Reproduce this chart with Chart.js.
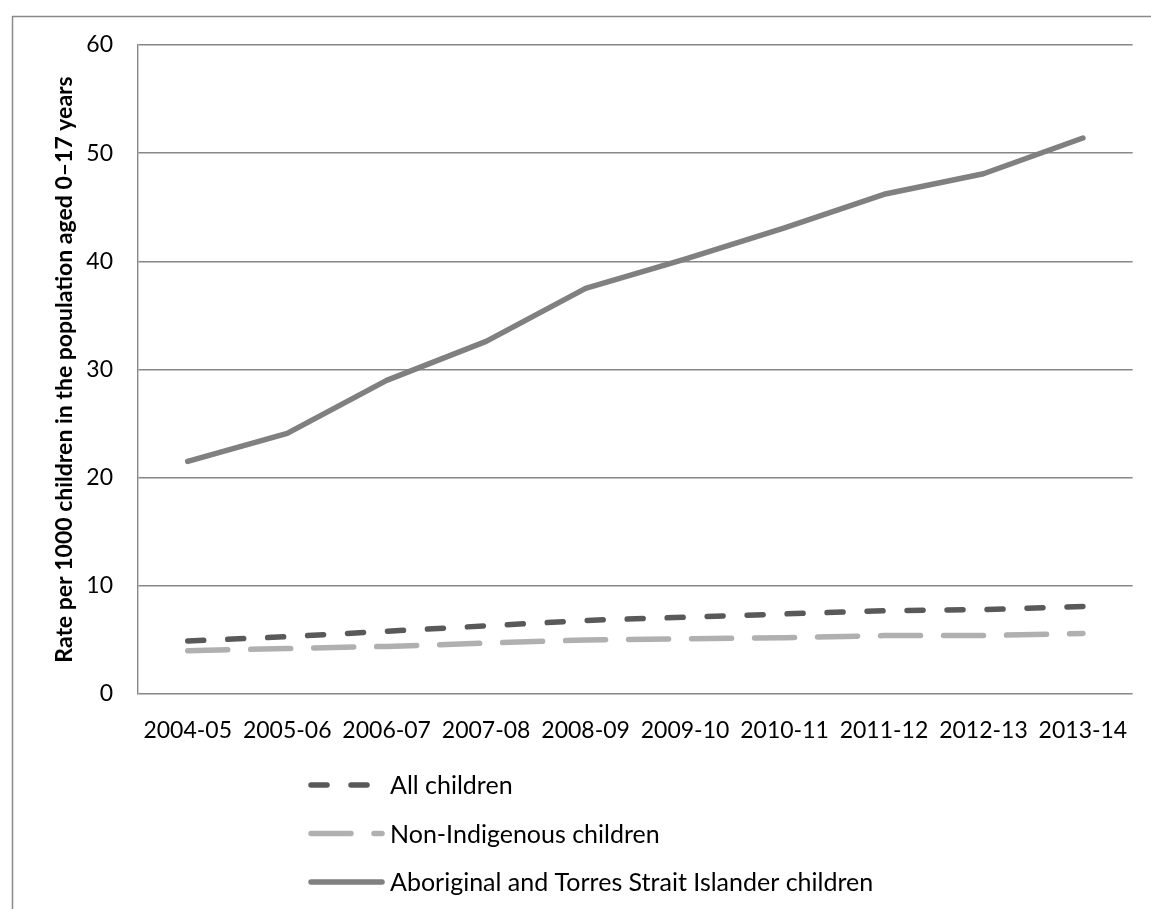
<!DOCTYPE html>
<html>
<head>
<meta charset="utf-8">
<style>
  html, body { margin: 0; padding: 0; background: #fff; }
  #wrap { position: relative; width: 1151px; height: 909px; }
</style>
<script src="https://cdn.jsdelivr.net/npm/chart.js@4/dist/chart.umd.min.js"></script>
</head>
<body>
<div id="wrap"><canvas id="chart" width="1151" height="909"></canvas></div>
<script>
// Financial years on the horizontal axis
const years = ['2004-05', '2005-06', '2006-07', '2007-08', '2008-09',
               '2009-10', '2010-11', '2011-12', '2012-13', '2013-14'];

// Rate per 1000 children aged 0–17 years
const allChildren   = [4.9, 5.3, 5.8, 6.3, 6.8, 7.1, 7.4, 7.7, 7.8, 8.1];
const nonIndigenous = [4.0, 4.2, 4.4, 4.7, 5.0, 5.1, 5.2, 5.4, 5.4, 5.6];
const aboriginal    = [21.5, 24.1, 29.0, 32.6, 37.5, 40.2, 43.1, 46.2, 48.1, 51.4];

// Vertical axis range and step
const yMin = 0, yMax = 60, yStep = 10;

const seriesNames = ['All children', 'Non-Indigenous children',
                     'Aboriginal and Torres Strait Islander children'];

const FONT = 'Lato, "Open Sans", sans-serif';
const GRID = '#878787';

// Outer frame and white page
const framePlugin = {
  id: 'frame',
  beforeDraw(chart) {
    const { ctx, width, height } = chart;
    ctx.save();
    ctx.fillStyle = '#fff';
    ctx.fillRect(0, 0, width, height);
    ctx.strokeStyle = '#8a8a8a';
    ctx.lineWidth = 1.5;
    ctx.beginPath();
    ctx.moveTo(12.5, height);
    ctx.lineTo(12.5, 16.5);
    ctx.lineTo(width, 16.5);
    ctx.stroke();
    ctx.restore();
  }
};

// Vertical legend below the axis, one row per series
const stackedLegend = {
  id: 'stackedLegend',
  afterDraw(chart) {
    const { ctx } = chart;
    const x0 = 311, sample = 71, textGap = 8, top = 785, rowStep = 48.5;
    ctx.save();
    chart.data.datasets.forEach((ds, i) => {
      const y = top + i * rowStep;
      ctx.strokeStyle = ds.borderColor;
      ctx.lineWidth = ds.borderWidth;
      ctx.lineCap = 'round';
      ctx.setLineDash(ds.borderDash || []);
      ctx.beginPath();
      ctx.moveTo(x0, y);
      ctx.lineTo(x0 + sample, y);
      ctx.stroke();
      ctx.setLineDash([]);
      ctx.fillStyle = '#000';
      ctx.font = '25px ' + FONT;
      ctx.textBaseline = 'middle';
      ctx.textAlign = 'left';
      ctx.fillText(ds.label, x0 + sample + textGap, y + 1);
    });
    ctx.restore();
  }
};

new Chart(document.getElementById('chart'), {
  type: 'line',
  data: {
    labels: years,
    datasets: [
      {
        label: seriesNames[0],
        data: allChildren,
        borderColor: '#595959',
        borderWidth: 5.5,
        borderDash: [16, 24],
        borderCapStyle: 'round',
        pointRadius: 0,
        tension: 0,
        fill: false
      },
      {
        label: seriesNames[1],
        data: nonIndigenous,
        borderColor: '#b0b0b0',
        borderWidth: 5.5,
        borderDash: [40, 23],
        borderCapStyle: 'round',
        pointRadius: 0,
        tension: 0,
        fill: false
      },
      {
        label: seriesNames[2],
        data: aboriginal,
        borderColor: '#808080',
        borderWidth: 5.5,
        borderCapStyle: 'round',
        borderJoinStyle: 'round',
        pointRadius: 0,
        tension: 0,
        fill: false
      }
    ]
  },
  options: {
    responsive: false,
    animation: false,
    devicePixelRatio: 1,
    layout: { padding: { left: 0, top: 45, right: 16, bottom: 0 } },
    plugins: {
      legend: { display: false },
      tooltip: { enabled: false },
      title: { display: false }
    },
    scales: {
      x: {
        type: 'category',
        offset: true,
        grid: { display: false, drawTicks: false },
        border: { display: false },
        ticks: {
          color: '#000',
          font: { family: FONT, size: 23 },
          padding: 23,
          maxRotation: 0,
          autoSkip: false
        },
        afterFit(scale) { scale.height = 215; }
      },
      y: {
        min: yMin,
        max: yMax,
        grid: { color: GRID, lineWidth: 1.4, drawTicks: false },
        border: { display: true, color: GRID, width: 1.4 },
        ticks: {
          stepSize: yStep,
          color: '#000',
          font: { family: FONT, size: 23 },
          padding: 25
        },
        title: {
          display: true,
          text: 'Rate per 1000 children in the population aged 0–17 years',
          color: '#000',
          font: { family: FONT, size: 23, weight: 'bold' },
          padding: { top: 51, bottom: 0 }
        },
        afterFit(scale) { scale.width = 138; }
      }
    }
  },
  plugins: [framePlugin, stackedLegend]
});
</script>
</body>
</html>
